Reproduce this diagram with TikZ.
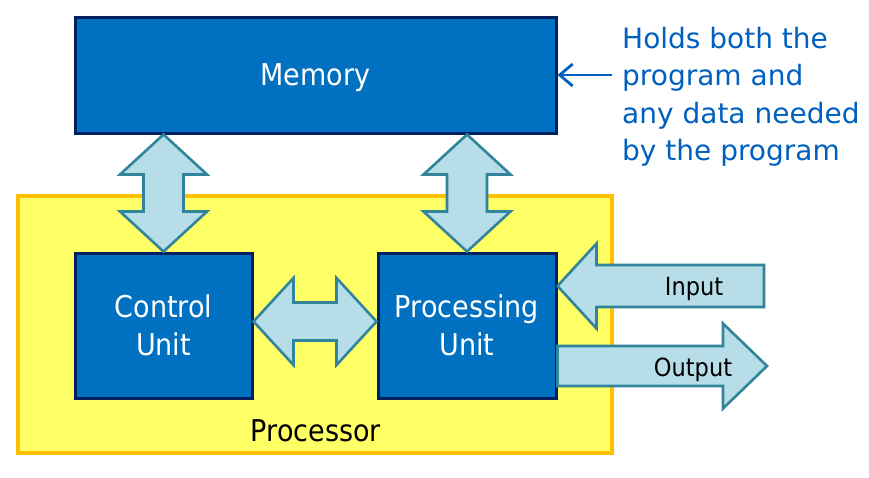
\documentclass[tikz,border=0pt]{standalone}
\usepackage{fontspec}
\setmainfont{DejaVu Sans}
\newfontfamily\labelfont[FakeStretch=0.9]{DejaVu Sans}
\usetikzlibrary{calc,arrows.meta}
\definecolor{boxblue}{RGB}{0,112,192}
\definecolor{boxedge}{RGB}{0,32,96}
\definecolor{cpuyellow}{RGB}{255,255,102}
\definecolor{cpuedge}{RGB}{255,192,0}
\definecolor{busfill}{RGB}{183,221,232}
\definecolor{busedge}{RGB}{49,133,155}
\definecolor{noteblue}{RGB}{0,96,192}
% double bus arrow: (tail)(tip)(head length:head half width:shaft half width)
\def\busarrow[#1](#2)(#3)(#4:#5:#6){\draw[#1] (#2)
	-- ($(#2)!#4!(#3)!#5!90:(#3)$) -- ($(#2)!#4!(#3)!#6!90:(#3)$)
	-- ($(#3)!#4!(#2)!#6!270:(#2)$) -- ($(#3)!#4!(#2)!#5!270:(#2)$)
	-- (#3)
	-- ($(#3)!#4!(#2)!#5!90:(#2)$) -- ($(#3)!#4!(#2)!#6!90:(#2)$)
	-- ($(#2)!#4!(#3)!#6!270:(#3)$) -- ($(#2)!#4!(#3)!#5!270:(#3)$)
	-- cycle;}
% single io arrow
\def\ioarrow[#1](#2)(#3)(#4:#5:#6){\draw[#1] ($(#2)!#6!90:(#3)$)
	-- ($(#3)!#4!(#2)!#6!270:(#2)$) -- ($(#3)!#4!(#2)!#5!270:(#2)$)
	-- (#3)
	-- ($(#3)!#4!(#2)!#5!90:(#2)$) -- ($(#3)!#4!(#2)!#6!90:(#2)$)
	-- ($(#2)!#6!270:(#3)$)
	-- cycle;}

\begin{document}
\begin{tikzpicture}[x=1pt, y=-1pt,
	unitbox/.style={draw=boxedge, fill=boxblue, line width=3pt, inner sep=0pt, text=white, align=center, font=\labelfont\fontsize{30}{38}\selectfont},
	bus/.style={draw=busedge, fill=busfill, line width=2.6pt, line join=miter},
	iolabel/.style={anchor=base, inner sep=0pt, font=\labelfont\fontsize{25}{30}\selectfont},
	notearrow/.style={draw=noteblue, line width=2.8pt, -{Straight Barb[length=13pt,width=22pt]}}]
		%%%%% START %%%%%
		
		\fill[white] (0, 0) rectangle (869, 477);
		\useasboundingbox (0, 0) rectangle (869, 477);
		
		\node[draw=cpuedge, fill=cpuyellow, line width=3.5pt, minimum width=594pt, minimum height=257pt, inner sep=0pt] (cpu) at (315, 324.5) {};
		\node[inner sep=0pt, font=\labelfont\fontsize{30}{38}\selectfont] (cpulabel) at (316, 431) {Processor};
		
		\node[unitbox, minimum width=481pt, minimum height=116pt, text depth=0pt] (mem) at (315.5, 75) {Memory};
		\node[unitbox, minimum width=177pt, minimum height=145pt] (ctrl) at (163.5, 325.5) {Control\\Unit};
		\node[unitbox, minimum width=178pt, minimum height=145pt] (pu) at (467, 325.5) {Processing\\Unit};
		
		\coordinate (ctrlbus) at (ctrl.north |- mem.south);
		\coordinate (pubus) at (pu.north |- mem.south);
		\coordinate (cubus) at ($(ctrl.east)+(0, -4)$);
		\coordinate (pubusw) at ($(pu.west)+(0, -4)$);
		\busarrow[bus](ctrlbus)(ctrl.north)(40pt:43.5pt:20pt);
		\busarrow[bus](pubus)(pu.north)(40pt:43.5pt:20pt);
		\busarrow[bus](cubus)(pubusw)(40pt:43.5pt:19pt);
		
		\coordinate (intail) at (764, 286);
		\coordinate (intip) at (pu.east |- intail);
		\coordinate (outtail) at (pu.east |- 0, 366);
		\coordinate (outtip) at (767, 366);
		\ioarrow[bus](intail)(intip)(39pt:42.5pt:21pt);
		\ioarrow[bus](outtail)(outtip)(44pt:42.5pt:20pt);
		\node[iolabel] (inlabel) at (694, 295) {Input};
		\node[iolabel] (outlabel) at (693, 376) {Output};
		
		\node[anchor=north west, inner sep=0pt, align=left, text=noteblue, font=\fontsize{28}{37.5}\selectfont] (note) at (622, 27) {Holds both the\\program and\\any data needed\\by the program};
		\coordinate (notetail) at (612, 75);
		\draw[notearrow] (notetail) -- (mem.east);
		
		%%%%% END %%%%%
\end{tikzpicture}
\end{document}
